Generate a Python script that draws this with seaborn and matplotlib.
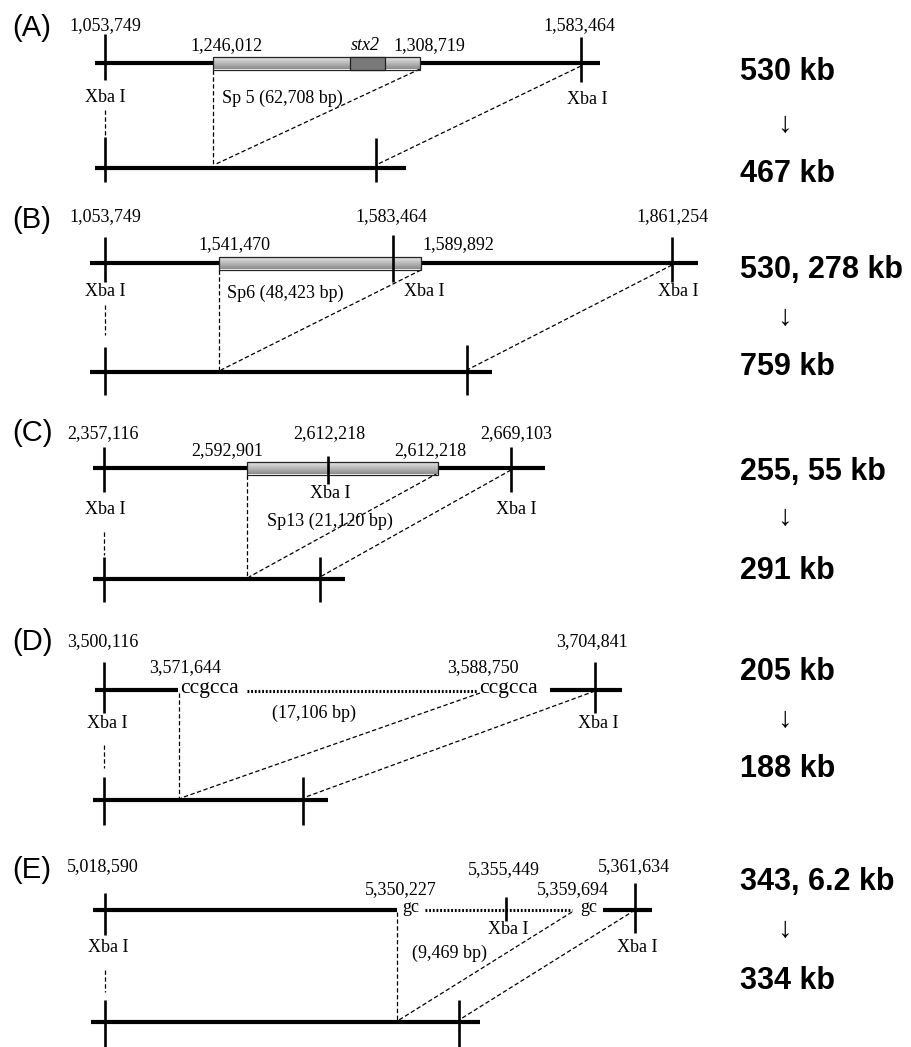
import numpy as np
import matplotlib.pyplot as plt
import matplotlib.patches as mpatches
import pandas as pd
import seaborn as sns

sns.set_theme(style='white')
plt.rcParams['text.color'] = 'black'

# ---- data: labels ----
letters = ['(A)', '(B)', '(C)', '(D)', '(E)']
pos_A = ['1,053,749', '1,246,012', '1,308,719', '1,583,464']
pos_B = ['1,053,749', '1,541,470', '1,583,464', '1,589,892', '1,861,254']
pos_C = ['2,357,116', '2,592,901', '2,612,218', '2,612,218', '2,669,103']
pos_D = ['3,500,116', '3,571,644', '3,588,750', '3,704,841']
pos_E = ['5,018,590', '5,350,227', '5,355,449', '5,359,694', '5,361,634']
regions = ['Sp 5 (62,708 bp)', 'Sp6 (48,423 bp)', 'Sp13 (21,120 bp)', '(17,106 bp)', '(9,469 bp)']
junction = ['ccgcca', 'gc']
before_kb = ['530 kb', '530, 278 kb', '255, 55 kb', '205 kb', '343, 6.2 kb']
after_kb = ['467 kb', '759 kb', '291 kb', '188 kb', '334 kb']

# ---- layout (pixel space of the figure) ----
top_y = [63, 263, 468, 690, 910]
bot_y = [168, 372, 579, 800, 1022]
letter_y = [28, 220, 433, 642, 870]
kb_rows = [(72, 124, 174), (270, 317, 367), (472, 517, 571), (672, 719, 769), (882, 929, 981)]

fig = plt.figure(figsize=(9.11, 10.47), dpi=100)
ax = fig.add_axes([0, 0, 1, 1])

SERIF = ['Liberation Serif', 'DejaVu Serif']
SANS = ['Liberation Sans', 'DejaVu Sans']

backbone = []
ticks = []


def line(x0, x1, y):
    backbone.append((x0, x1, y))


def tick(x, y0, y1):
    ticks.append((x, y0, y1))


def lab(x, y, s, ha='center', size=13, **kw):
    ax.text(x, y, s, ha=ha, va='center', fontsize=size, family=SERIF, color='black', **kw)


def dash(x0, y0, x1, y1):
    ax.plot([x0, x1], [y0, y1], color='black', lw=0.9, ls=(0, (3.5, 2)))


def dots(x0, x1, y):
    ax.plot([x0, x1], [y, y], color='black', lw=2.2, ls=(0, (0.6, 0.6)))


def box(x0, x1, y, h=13):
    grad = np.linspace(0.93, 0.55, 32)[:, None]
    im = ax.imshow(grad, cmap='gray', vmin=0, vmax=1, aspect='auto',
                   extent=(x0, x1, y + h / 2, y - h / 2), origin='upper', zorder=3)
    r = mpatches.Rectangle((x0, y - h / 2), x1 - x0, h, fill=False, ec='#222222', lw=0.9, zorder=4)
    ax.add_patch(r)
    im.set_clip_path(r)


# panel A
line(95, 600, top_y[0]); line(95, 406, bot_y[0])
tick(105, 34, 80); tick(581, 37, 82); tick(105, 137, 182); tick(376, 138, 182)
box(213, 420, top_y[0])
ax.add_patch(mpatches.Rectangle((350, top_y[0] - 6.5), 35, 13, fc='#7a7a7a', ec='#222222', lw=0.9, zorder=5))
lab(105, 26, pos_A[0]); lab(226, 46, pos_A[1]); lab(429, 46, pos_A[2]); lab(579, 26, pos_A[3])
lab(365, 46, 'stx2', style='italic')
lab(105, 97, 'Xba I'); lab(587, 100, 'Xba I')
lab(222, 98, regions[0], ha='left')
dash(105, 110, 105, 137); dash(213, 70, 213, 168)
dash(420, 69, 216, 164); dash(581, 66, 376, 165)

# panel B
line(90, 698, top_y[1]); line(90, 492, bot_y[1])
tick(105, 237, 282); tick(393, 235, 282); tick(672, 237, 282)
tick(105, 347, 395); tick(467, 345, 395)
box(219, 421, top_y[1])
lab(105, 217, pos_B[0]); lab(234, 245, pos_B[1]); lab(391, 217, pos_B[2])
lab(458, 245, pos_B[3]); lab(672, 217, pos_B[4])
lab(105, 292, 'Xba I'); lab(424, 292, 'Xba I'); lab(678, 292, 'Xba I')
lab(227, 293, regions[1], ha='left')
dash(105, 305, 105, 335); dash(219, 270, 219, 372)
dash(421, 270, 221, 370); dash(672, 265, 467, 370)

# panel C
line(93, 545, top_y[2]); line(93, 345, bot_y[2])
tick(104, 447, 492); tick(511, 447, 492)
tick(104, 557, 602); tick(320, 557, 602)
box(247, 438, top_y[2])
tick(328, 456, 484)
lab(103, 434, pos_C[0]); lab(227, 451, pos_C[1]); lab(329, 434, pos_C[2])
lab(430, 451, pos_C[3]); lab(516, 434, pos_C[4])
lab(330, 493, 'Xba I'); lab(105, 509, 'Xba I'); lab(516, 509, 'Xba I')
lab(330, 521, regions[2])
dash(104, 532, 104, 555); dash(247, 475, 247, 579)
dash(438, 473, 249, 577); dash(511, 470, 320, 577)

# panel D
line(95, 178, top_y[3]); line(550, 622, top_y[3]); line(93, 328, bot_y[3])
tick(104, 662, 713); tick(595, 662, 713)
tick(104, 777, 825); tick(303, 777, 825)
lab(103, 642, pos_D[0]); lab(185, 668, pos_D[1]); lab(483, 668, pos_D[2]); lab(592, 642, pos_D[3])
lab(180, 688, junction[0], ha='left', size=15.5); lab(479, 688, junction[0], ha='left', size=15.5)
dots(247, 477, top_y[3] + 1)
lab(314, 713, regions[3])
lab(107, 723, 'Xba I'); lab(598, 723, 'Xba I')
dash(179, 693, 179, 800); dash(104, 745, 104, 768)
dash(480, 693, 181, 798); dash(595, 691, 303, 798)

# panel E
line(93, 397, top_y[4]); line(603, 652, top_y[4]); line(91, 480, bot_y[4])
tick(105, 893, 935); tick(635, 883, 933)
tick(105, 1000, 1047); tick(459, 1000, 1047)
dots(425, 572, top_y[4])
tick(506, 897, 921)
lab(103, 867, pos_E[0]); lab(401, 890, pos_E[1]); lab(504, 870, pos_E[2])
lab(573, 890, pos_E[3]); lab(634, 867, pos_E[4])
lab(402, 908, junction[1], ha='left'); lab(580, 908, junction[1], ha='left')
lab(108, 947, 'Xba I'); lab(508, 930, 'Xba I'); lab(637, 948, 'Xba I')
lab(450, 953, regions[4])
dash(397, 912, 397, 1022); dash(105, 970, 105, 992)
dash(572, 912, 399, 1020); dash(635, 910, 459, 1020)

# backbones and ticks through seaborn
bb = pd.DataFrame([(i, x, y) for i, (x0, x1, y) in enumerate(backbone) for x in (x0, x1)],
                  columns=['seg', 'x', 'y'])
sns.lineplot(data=bb, x='x', y='y', units='seg', estimator=None, sort=False,
             color='black', lw=3.0, ax=ax, zorder=2, solid_capstyle='butt')
tk = pd.DataFrame([(i, x, y) for i, (x, y0, y1) in enumerate(ticks) for y in (y0, y1)],
                  columns=['seg', 'x', 'y'])
sns.lineplot(data=tk, x='x', y='y', units='seg', estimator=None, sort=False,
             color='black', lw=1.9, ax=ax, zorder=6, solid_capstyle='butt')

# panel letters and fragment sizes
for i, let in enumerate(letters):
    ax.text(12, letter_y[i], let, ha='left', va='center', fontsize=21, family=SANS, color='black')
    y_b, y_a, y_c = kb_rows[i]
    ax.text(740, y_b, before_kb[i], ha='left', va='center', fontsize=22, family=SANS,
            weight='bold', color='black')
    ax.text(784, y_a, '\u2193', ha='center', va='center', fontsize=21, family=SANS, color='black')
    ax.text(740, y_c, after_kb[i], ha='left', va='center', fontsize=22, family=SANS,
            weight='bold', color='black')

ax.set_xlim(0, 911)
ax.set_ylim(1047, 0)
ax.axis('off')
fig.savefig('out.png', dpi=100, facecolor='white')
